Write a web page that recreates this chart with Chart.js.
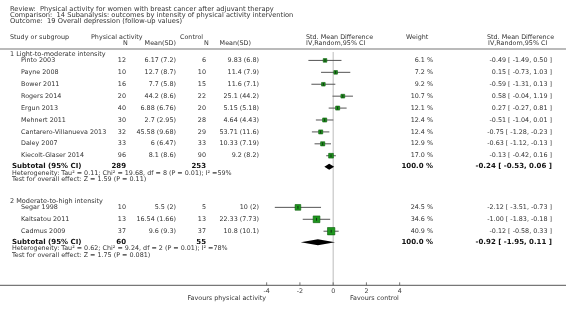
<!DOCTYPE html>
<html>
<head>
<meta charset="utf-8">
<script src="https://cdn.jsdelivr.net/npm/chart.js@4.4.1/dist/chart.umd.min.js"></script>
<style>
  html, body { margin: 0; padding: 0; background: #fff; }
  #wrap { width: 566px; height: 317px; }
</style>
</head>
<body>
<div id="wrap"><canvas id="forest" width="566" height="317"></canvas></div>
<script>
// header texts
const reviewLines = [
    'Review:  Physical activity for women with breast cancer after adjuvant therapy',
    'Comparison:  14 Subanalysis: outcomes by intensity of physical activity intervention',
    'Outcome:  19 Overall depression (follow-up values)'
];

// group 1: light-to-moderate intensity
const group1 = '1 Light-to-moderate intensity';
const studies1 = ['Pinto 2003', 'Payne 2008', 'Bower 2011', 'Rogers 2014', 'Ergun 2013',
    'Mehnert 2011', 'Cantarero-Villanueva 2013', 'Daley 2007', 'Kiecolt-Glaser 2014'];
const paN1 = [12, 10, 16, 20, 40, 30, 32, 33, 96];
const paMean1 = ['6.17 (7.2)', '12.7 (8.7)', '7.7 (5.8)', '44.2 (8.6)', '6.88 (6.76)',
    '2.7 (2.95)', '45.58 (9.68)', '6 (6.47)', '8.1 (8.6)'];
const ctrlN1 = [6, 10, 15, 22, 20, 28, 29, 33, 90];
const ctrlMean1 = ['9.83 (6.8)', '11.4 (7.9)', '11.6 (7.1)', '25.1 (44.2)', '5.15 (5.18)',
    '4.64 (4.43)', '53.71 (11.6)', '10.33 (7.19)', '9.2 (8.2)'];
const weight1 = [6.1, 7.2, 9.2, 10.7, 12.1, 12.4, 12.4, 12.9, 17.0];
const smd1 = [-0.49, 0.15, -0.59, 0.58, 0.27, -0.51, -0.75, -0.63, -0.13];
const lo1 = [-1.49, -0.73, -1.31, -0.04, -0.27, -1.04, -1.28, -1.12, -0.42];
const hi1 = [0.50, 1.03, 0.13, 1.19, 0.81, 0.01, -0.23, -0.13, 0.16];
const subN1 = [289, 253];
const subEffect1 = [-0.24, -0.53, 0.06];
const het1 = 'Heterogeneity: Tau\u00b2 = 0.11; Chi\u00b2 = 19.68, df = 8 (P = 0.01); I\u00b2 =59%';
const test1 = 'Test for overall effect: Z = 1.59 (P = 0.11)';

// group 2: moderate-to-high intensity
const group2 = '2 Moderate-to-high intensity';
const studies2 = ['Segar 1998', 'Kaltsatou 2011', 'Cadmus 2009'];
const paN2 = [10, 13, 37];
const paMean2 = ['5.5 (2)', '16.54 (1.66)', '9.6 (9.3)'];
const ctrlN2 = [5, 13, 37];
const ctrlMean2 = ['10 (2)', '22.33 (7.73)', '10.8 (10.1)'];
const weight2 = [24.5, 34.6, 40.9];
const smd2 = [-2.12, -1.00, -0.12];
const lo2 = [-3.51, -1.83, -0.58];
const hi2 = [-0.73, -0.18, 0.33];
const subN2 = [60, 55];
const subEffect2 = [-0.92, -1.95, 0.11];
const het2 = 'Heterogeneity: Tau\u00b2 = 0.62; Chi\u00b2 = 9.24, df = 2 (P = 0.01); I\u00b2 =78%';
const test2 = 'Test for overall effect: Z = 1.75 (P = 0.081)';

const xTicks = [-4, -2, 0, 2, 4];
const favourLeft = 'Favours physical activity';
const favourRight = 'Favours control';

// ---- row layout (y in pixels from the top of the page) ----
function layoutGroup(startY, n) {
    const g = { header: startY, rows: [] };
    let y = startY + 6;
    for (let i = 0; i < n; i++) { g.rows.push(y); y += 12; }
    g.subtotal = g.rows[n - 1] + 11;
    g.het = g.subtotal + 6.5;
    g.test = g.het + 6.5;
    return g;
}
const L1 = layoutGroup(54.5, studies1.length);
const L2 = layoutGroup(L1.test + 22, studies2.length);

const groups = [
    { title: group1, L: L1, studies: studies1, paN: paN1, paMean: paMean1, ctrlN: ctrlN1, ctrlMean: ctrlMean1,
      weight: weight1, smd: smd1, lo: lo1, hi: hi1, subN: subN1, sub: subEffect1, het: het1, test: test1 },
    { title: group2, L: L2, studies: studies2, paN: paN2, paMean: paMean2, ctrlN: ctrlN2, ctrlMean: ctrlMean2,
      weight: weight2, smd: smd2, lo: lo2, hi: hi2, subN: subN2, sub: subEffect2, het: het2, test: test2 }
];

const FONT = '"DejaVu Sans", Verdana, sans-serif';
const TEXT = '#333';

// datasets: CI lines, squares, centre marks
const datasets = [];
const sqPts = [], sqRad = [];
groups.forEach(g => {
    g.studies.forEach((s, i) => {
        datasets.push({
            type: 'line',
            data: [{ x: g.lo[i], y: g.L.rows[i] }, { x: g.hi[i], y: g.L.rows[i] }],
            borderColor: '#555',
            borderWidth: 1,
            pointRadius: 0,
            order: 3
        });
        sqPts.push({ x: g.smd[i], y: g.L.rows[i] });
        const side = Math.max(3.6, 1.15 * Math.sqrt(g.weight[i]));
        sqRad.push(side / Math.SQRT2);
    });
});
datasets.push({
    type: 'scatter',
    data: sqPts,
    pointStyle: 'rect',
    pointRadius: sqRad,
    backgroundColor: '#1e961e',
    borderColor: '#0b5d0b',
    borderWidth: 0.6,
    order: 2
});
datasets.push({
    type: 'scatter',
    data: sqPts,
    pointStyle: 'line',
    rotation: 90,
    pointRadius: 1.4,
    borderColor: '#111',
    borderWidth: 0.8,
    order: 1
});

function txt(ctx, s, x, y, align, font, color) {
    ctx.font = font;
    ctx.fillStyle = color || TEXT;
    ctx.textAlign = align;
    ctx.textBaseline = 'middle';
    ctx.fillText(s, x, y);
}

const forestPlugin = {
    id: 'forest',
    beforeDatasetsDraw(chart) {
        const ctx = chart.ctx;
        const x = chart.scales.x, y = chart.scales.y;
        ctx.save();
        // zero line
        const x0 = x.getPixelForValue(0);
        ctx.strokeStyle = '#bbb';
        ctx.lineWidth = 1;
        ctx.beginPath();
        ctx.moveTo(x0, y.getPixelForValue(52));
        ctx.lineTo(x0, y.bottom);
        ctx.stroke();
        ctx.restore();
    },
    afterDraw(chart) {
        const ctx = chart.ctx;
        const x = chart.scales.x, y = chart.scales.y;
        const n = '6.4px ' + FONT, b = 'bold 7px ' + FONT, t = '6.7px ' + FONT;
        ctx.save();
        // title block
        reviewLines.forEach((s, i) => txt(ctx, s, 10, 9 + i * 6.3, 'left', t));
        // column headers
        txt(ctx, 'Study or subgroup', 10, 37.5, 'left', n);
        txt(ctx, 'Physical activity', 91, 37.5, 'left', n);
        txt(ctx, 'N', 123, 43, 'left', n);
        txt(ctx, 'Mean(SD)', 176, 43, 'right', n);
        txt(ctx, 'Control', 180, 37.5, 'left', n);
        txt(ctx, 'N', 204, 43, 'left', n);
        txt(ctx, 'Mean(SD)', 251, 43, 'right', n);
        txt(ctx, 'Std. Mean Difference', 306, 37.5, 'left', n);
        txt(ctx, 'IV,Random,95% CI', 306, 43, 'left', n);
        txt(ctx, 'Weight', 406, 37.5, 'left', n);
        txt(ctx, 'Std. Mean Difference', 487, 37.5, 'left', n);
        txt(ctx, 'IV,Random,95% CI', 488, 43, 'left', n);
        // rules
        ctx.strokeStyle = '#777';
        ctx.lineWidth = 1.2;
        ctx.beginPath();
        ctx.moveTo(0, y.top); ctx.lineTo(566, y.top);
        ctx.moveTo(0, y.bottom); ctx.lineTo(566, y.bottom);
        ctx.stroke();
        // axis tick marks
        ctx.strokeStyle = '#555';
        ctx.lineWidth = 0.8;
        x.ticks.forEach(tk => {
            const px = x.getPixelForValue(tk.value);
            ctx.beginPath();
            ctx.moveTo(px, y.bottom - 3); ctx.lineTo(px, y.bottom);
            ctx.stroke();
        });
        txt(ctx, favourLeft, 266, 298, 'right', n);
        txt(ctx, favourRight, 350, 298, 'left', n);

        groups.forEach(g => {
            const P = v => y.getPixelForValue(v);
            txt(ctx, g.title, 10, P(g.L.header), 'left', '6.5px ' + FONT);
            g.studies.forEach((s, i) => {
                const py = P(g.L.rows[i]);
                txt(ctx, s, 21, py, 'left', n);
                txt(ctx, String(g.paN[i]), 126, py, 'right', n);
                txt(ctx, g.paMean[i], 176, py, 'right', n);
                txt(ctx, String(g.ctrlN[i]), 206, py, 'right', n);
                txt(ctx, g.ctrlMean[i], 259, py, 'right', n);
                txt(ctx, g.weight[i].toFixed(1) + ' %', 433, py, 'right', n);
                txt(ctx, g.smd[i].toFixed(2) + ' [ ' + g.lo[i].toFixed(2) + ', ' + g.hi[i].toFixed(2) + ' ]', 552, py, 'right', n);
            });
            const sy = P(g.L.subtotal);
            txt(ctx, 'Subtotal (95% CI)', 12, sy, 'left', b, '#111');
            txt(ctx, String(g.subN[0]), 126, sy, 'right', b, '#111');
            txt(ctx, String(g.subN[1]), 206, sy, 'right', b, '#111');
            txt(ctx, '100.0 %', 433, sy, 'right', b, '#111');
            txt(ctx, g.sub[0].toFixed(2) + ' [ ' + g.sub[1].toFixed(2) + ', ' + g.sub[2].toFixed(2) + ' ]', 552, sy, 'right', b, '#111');
            txt(ctx, g.het, 12, P(g.L.het), 'left', n);
            txt(ctx, g.test, 12, P(g.L.test), 'left', n);
            // diamond
            ctx.fillStyle = '#000';
            ctx.beginPath();
            ctx.moveTo(x.getPixelForValue(g.sub[1]), sy);
            ctx.lineTo(x.getPixelForValue(g.sub[0]), sy - 3);
            ctx.lineTo(x.getPixelForValue(g.sub[2]), sy);
            ctx.lineTo(x.getPixelForValue(g.sub[0]), sy + 3);
            ctx.closePath();
            ctx.fill();
        });
        ctx.restore();
    }
};

new Chart(document.getElementById('forest'), {
    type: 'scatter',
    data: { datasets: datasets },
    options: {
        responsive: false,
        animation: false,
        events: [],
        layout: { padding: { left: 266.67, right: 166.33, top: 49, bottom: 20 } },
        plugins: { legend: { display: false }, tooltip: { enabled: false } },
        scales: {
            x: {
                type: 'linear',
                min: -4, max: 4,
                afterBuildTicks: s => { s.ticks = xTicks.map(v => ({ value: v })); },
                ticks: { font: { family: 'DejaVu Sans', size: 6.4 }, color: '#444', padding: 2, maxRotation: 0 },
                grid: { display: false, drawTicks: false },
                border: { display: false }
            },
            y: {
                display: false,
                min: 49, max: 287,
                reverse: true
            }
        }
    },
    plugins: [forestPlugin]
});
</script>
</body>
</html>
